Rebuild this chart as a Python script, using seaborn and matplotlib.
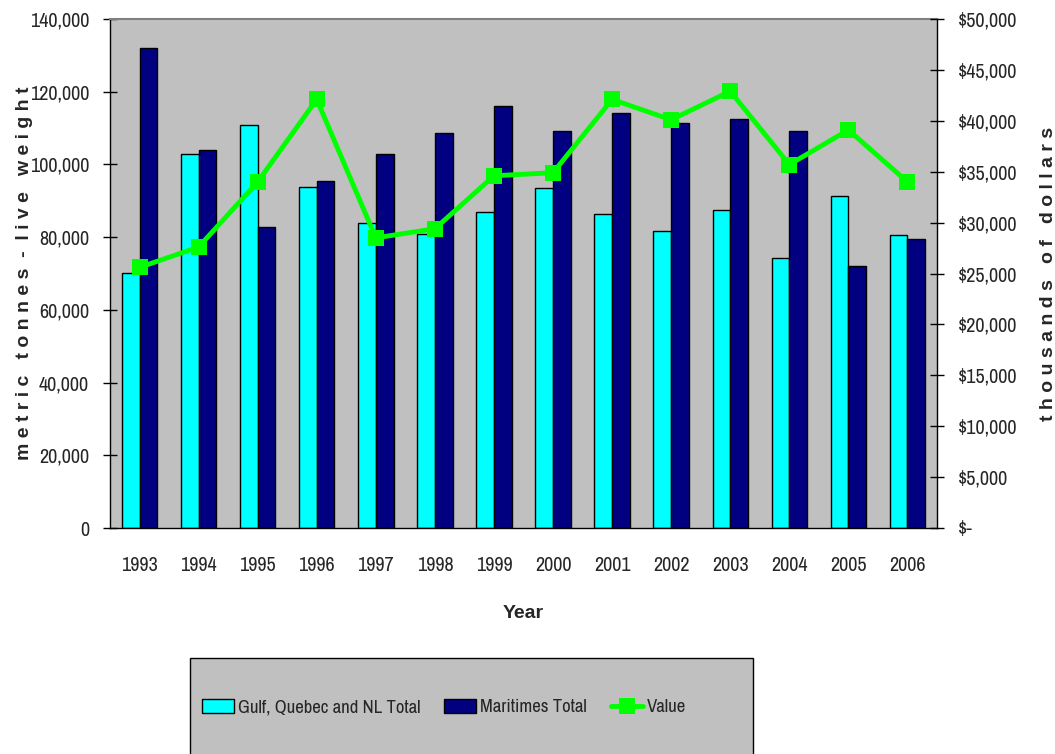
import matplotlib
matplotlib.use("Agg")
import matplotlib.pyplot as plt
from matplotlib import font_manager
from matplotlib.patches import Rectangle
from matplotlib.lines import Line2D
import matplotlib.ticker as mticker
import seaborn as sns
import pandas as pd
import numpy as np

# data
years = ["1993", "1994", "1995", "1996", "1997", "1998", "1999",
         "2000", "2001", "2002", "2003", "2004", "2005", "2006"]
gulf_total = [70200, 102800, 110800, 93700, 84000, 81000, 86800,
              93600, 86300, 81700, 87400, 74200, 91300, 80500]
maritimes_total = [132000, 104000, 82900, 95400, 102900, 108600, 116000,
                   109100, 114200, 111400, 112600, 109100, 72100, 79400]
value_k = [25600, 27600, 34000, 42100, 28500, 29400, 34600,
           34900, 42100, 40100, 42900, 35700, 39100, 34000]

series_names = ["Gulf, Quebec and NL Total", "Maritimes Total"]
bar_colors = ["#00FFFF", "#000080"]
line_color = "#00FF00"
bg = "#C0C0C0"

sns.set_theme(style="white")
installed = sorted({f.name for f in font_manager.fontManager.ttflist})
narrow = [n for n in installed if "Narrow" in n or "Condensed" in n]
plt.rcParams["font.family"] = narrow[:1] + ["Liberation Sans", "DejaVu Sans"]
tick_fs = 14.5 if narrow else 12
bold_font = {"family": ["Liberation Sans", "DejaVu Sans"], "weight": "bold"}

df = pd.DataFrame({
    "year": years * 2,
    "series": [series_names[0]] * len(years) + [series_names[1]] * len(years),
    "tonnes": gulf_total + maritimes_total,
})

fig = plt.figure(figsize=(10.55, 7.54), dpi=100)
ax = fig.add_axes([110 / 1055, 1 - 528 / 754, (937 - 110) / 1055, (528 - 19) / 754])
ax.set_facecolor(bg)

sns.barplot(data=df, x="year", y="tonnes", hue="series", order=years,
            hue_order=series_names, palette=bar_colors, saturation=1,
            width=0.6, gap=0, edgecolor="black", linewidth=1, legend=False, ax=ax)

ax.set_xlim(-0.5, len(years) - 0.5)
ax.set_ylim(0, 140000)
ax.yaxis.set_major_locator(mticker.MultipleLocator(20000))
ax.yaxis.set_major_formatter(mticker.FuncFormatter(lambda v, p: f"{int(v):,}"))
ax.set_xticks(np.arange(len(years)))
ax.set_xticklabels(years)
ax.set_xticks(np.arange(-0.5, len(years)), minor=True)
ax.tick_params(axis="x", which="major", length=0, labelsize=tick_fs, pad=20)
ax.tick_params(axis="x", which="minor", length=10, width=1, direction="inout", color="black")
ax.tick_params(axis="y", length=10, width=1, direction="inout", labelsize=tick_fs,
               left=True, color="black", pad=10)
ax.set_xlabel("Year", fontsize=14, fontdict=bold_font, labelpad=22)
ax.set_ylabel("m e t r i c   t o n n e s  -  l i v e   w e i g h t",
              fontsize=14, fontdict=bold_font, labelpad=-2)

for side in ["left", "bottom", "right"]:
    ax.spines[side].set_color("black")
    ax.spines[side].set_linewidth(1)
ax.spines["top"].set_color("#808080")
ax.spines["top"].set_linewidth(1.5)

ax2 = ax.twinx()
sns.lineplot(x=np.arange(len(years)), y=value_k, color=line_color, linewidth=3.5,
             marker="s", markersize=11, markeredgewidth=0, ax=ax2)
ax2.set_ylim(0, 50000)
ax2.set_xlim(-0.5, len(years) - 0.5)
ax2.yaxis.set_major_locator(mticker.MultipleLocator(5000))
ax2.yaxis.set_major_formatter(mticker.FuncFormatter(
    lambda v, p: "$-" if v == 0 else f"${int(v):,}"))
ax2.tick_params(axis="y", length=10, width=1, direction="inout", labelsize=tick_fs,
                right=True, color="black", pad=10)
ax2.set_ylabel("t h o u s a n d s   o f   d o l l a r s", fontsize=14,
               fontdict=bold_font, labelpad=16)
for s in ax2.spines.values():
    s.set_visible(False)

# legend box at the bottom
fig.patches.append(Rectangle((190 / 1055, -0.01), (753 - 190) / 1055, (754 - 658) / 754 + 0.01,
                             transform=fig.transFigure, facecolor=bg, edgecolor="black",
                             linewidth=1, zorder=0))
handles = [
    Rectangle((0, 0), 1, 1, facecolor=bar_colors[0], edgecolor="black", linewidth=1),
    Rectangle((0, 0), 1, 1, facecolor=bar_colors[1], edgecolor="black", linewidth=1),
    Line2D([], [], color=line_color, linewidth=3.5, marker="s", markersize=11, markeredgewidth=0),
]
fig.legend(handles, series_names + ["Value"], loc="center",
           bbox_to_anchor=(444 / 1055, 1 - 707 / 754), ncol=3,
           frameon=False, fontsize=13.5, handlelength=1.7, handleheight=0.8,
           handletextpad=0.2, columnspacing=1.3)

fig.savefig("out.png", dpi=100, facecolor="white")
